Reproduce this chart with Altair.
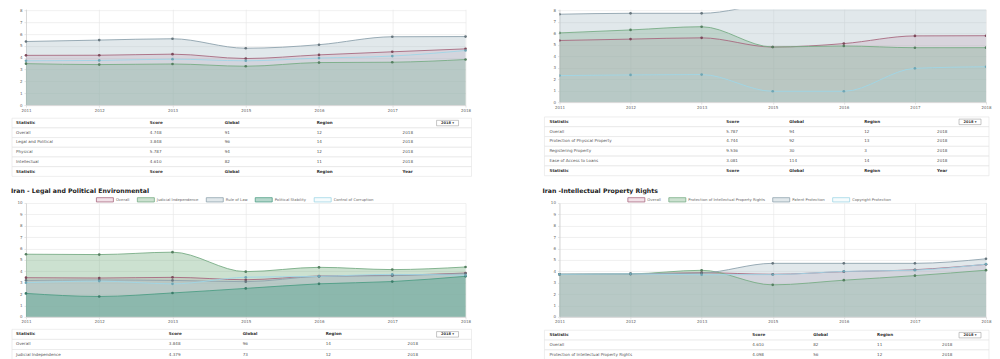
import altair as alt
import pandas as pd

# ---------------- data ----------------
YEARS = ["2011", "2012", "2013", "2015", "2016", "2017", "2018"]

IPRI_NAMES = ["Overall", "Legal and Political", "Physical", "Intellectual"]
IPRI_OVERALL = [4.20, 4.21, 4.30, 3.93, 4.24, 4.50, 4.748]
IPRI_LEGAL = [3.50, 3.42, 3.47, 3.28, 3.59, 3.62, 3.848]
IPRI_PHYSICAL = [5.37, 5.49, 5.60, 4.80, 5.10, 5.77, 5.787]
IPRI_INTELLECTUAL = [3.74, 3.77, 3.88, 3.74, 3.97, 4.14, 4.610]

PPR_NAMES = ["Overall", "Protection of Physical Property", "Registering Property",
             "Ease of Access to Loans"]
PPR_OVERALL = [5.37, 5.49, 5.60, 4.80, 5.10, 5.77, 5.787]
PPR_PROTECTION = [6.03, 6.29, 6.57, 4.80, 4.89, 4.74, 4.744]
PPR_REGISTERING = [7.66, 7.74, 7.74, 8.70, 9.45, 9.55, 9.536]
PPR_LOANS = [2.31, 2.37, 2.40, 0.94, 0.94, 2.94, 3.081]

LP_NAMES = ["Overall", "Judicial Independence", "Rule of Law", "Political Stability",
            "Control of Corruption"]
LP_OVERALL = [3.44, 3.41, 3.47, 3.26, 3.59, 3.65, 3.848]
LP_JUDICIAL = [5.50, 5.47, 5.68, 3.97, 4.35, 4.15, 4.379]
LP_RULE = [3.20, 3.24, 3.20, 3.09, 3.55, 3.62, 3.80]
LP_STABILITY = [2.06, 1.79, 2.10, 2.50, 2.90, 3.10, 3.56]
LP_CORRUPTION = [3.00, 3.14, 2.90, 3.48, 3.56, 3.73, 3.65]

IPR_NAMES = ["Overall", "Protection of Intellectual Property Rights", "Patent Protection",
             "Copyright Protection"]
IPR_OVERALL = [3.74, 3.77, 3.88, 3.74, 3.97, 4.14, 4.610]
IPR_PROTECTION = [3.74, 3.77, 4.09, 2.81, 3.22, 3.62, 4.098]
IPR_PATENT = [3.74, 3.77, 3.85, 4.70, 4.70, 4.70, 5.10]
IPR_COPYRIGHT = [3.74, 3.77, 3.70, 3.71, 3.99, 4.10, 4.63]

HEADER = ["Statistic", "Score", "Global", "Region", "Year"]
TABLE_YEAR = "2018"

TL_STATS = ["Overall", "Legal and Political", "Physical", "Intellectual"]
TL_SCORE = ["4.748", "3.848", "5.787", "4.610"]
TL_GLOBAL = ["91", "96", "94", "82"]
TL_REGION = ["12", "14", "12", "11"]

TR_STATS = ["Overall", "Protection of Physical Property", "Registering Property",
            "Ease of Access to Loans"]
TR_SCORE = ["5.787", "4.744", "9.536", "3.081"]
TR_GLOBAL = ["94", "92", "30", "114"]
TR_REGION = ["12", "13", "3", "14"]

BL_STATS = ["Overall", "Judicial Independence"]
BL_SCORE = ["3.848", "4.379"]
BL_GLOBAL = ["96", "73"]
BL_REGION = ["14", "12"]

BR_STATS = ["Overall", "Protection of Intellectual Property Rights"]
BR_SCORE = ["4.610", "4.098"]
BR_GLOBAL = ["82", "56"]
BR_REGION = ["11", "12"]

# ---------------- style ----------------
FONT = "DejaVu Sans"
GRID = "#e6e6e6"
DOMAIN = "#c8c8c8"
LABEL = "#666666"
RECT_SYM = "M-1,-0.25H1V0.25H-1Z"

# (stroke, fill, dot)
PINK = ("#a86a80", "rgba(200,130,160,0.24)", "#7d4a5b")
GREEN = ("#78ad86", "rgba(110,170,120,0.35)", "#557f60")
GRAYBLUE = ("#8fa3ae", "rgba(170,188,198,0.35)", "#66757d")
TEAL = ("#4f9e86", "rgba(60,150,120,0.38)", "#3b7c69")
CYAN = ("#9fd6e6", "rgba(170,225,235,0.10)", "#6fa6b4")
PAL4 = [PINK, GREEN, GRAYBLUE, CYAN]
PAL5 = [PINK, GREEN, GRAYBLUE, TEAL, CYAN]


def long_df(names, series):
    rows = []
    for name, vals in zip(names, series):
        for yr, v in zip(YEARS, vals):
            rows.append({"year": yr, "series": name, "value": v})
    return pd.DataFrame(rows)


def area_panel(df, names, pal, width, height, ymax, title=None, title_dx=0,
               legend_x=None, clip=False):
    strokes = [p[0] for p in pal]
    fills = [p[1] for p in pal]
    dots = [p[2] for p in pal]
    if legend_x is not None:
        leg = alt.Legend(orient="none", legendX=legend_x, legendY=-12.3,
                         direction="horizontal", columns=len(names), title=None,
                         symbolType=RECT_SYM, symbolSize=289, symbolStrokeWidth=0.8,
                         labelFont=FONT, labelFontSize=3.8, labelColor="#666",
                         labelOffset=2, columnPadding=5, padding=0, rowPadding=0,
                         labelLimit=300)
    else:
        leg = None
    x = alt.X("year:O", sort=YEARS, scale=alt.Scale(type="point", padding=0),
              axis=alt.Axis(title=None, labelAngle=0, grid=True, gridColor=GRID,
                            gridWidth=0.6, tickColor=GRID, tickSize=2,
                            domainColor=DOMAIN, domainWidth=0.6, labelFont=FONT,
                            labelFontSize=4, labelColor=LABEL, labelPadding=1))
    y = alt.Y("value:Q", stack=None,
              scale=alt.Scale(domain=[0, ymax], nice=False, zero=True),
              axis=alt.Axis(title=None, values=list(range(0, int(ymax) + 1)),
                            grid=True, gridColor=GRID, gridWidth=0.6, tickColor=GRID,
                            tickSize=2, domainColor=DOMAIN, domainWidth=0.6,
                            labelFont=FONT, labelFontSize=4, labelColor=LABEL,
                            labelPadding=2))
    fill = alt.Fill("series:N", sort=names, scale=alt.Scale(domain=names, range=fills),
                    legend=leg)
    stroke = alt.Stroke("series:N", sort=names,
                        scale=alt.Scale(domain=names, range=strokes), legend=leg)
    color = alt.Color("series:N", sort=names, scale=alt.Scale(domain=names, range=dots),
                      legend=None)
    base = alt.Chart(df)
    area = base.mark_area(interpolate="monotone", clip=clip).encode(x=x, y=y, fill=fill)
    line = base.mark_line(interpolate="monotone", strokeWidth=0.9, clip=clip).encode(
        x=x, y=y, stroke=stroke)
    pts = base.mark_circle(size=7, opacity=1, clip=clip).encode(x=x, y=y, color=color)
    ch = alt.layer(area, line, pts).properties(width=width, height=height)
    if title:
        ch = ch.properties(title=alt.TitleParams(
            text=title, anchor="start", frame="group", font=FONT, fontSize=6.2,
            fontWeight="bold", color="#222", dx=title_dx, offset=-3.8))
    return ch


def table_panel(stats, score, glob, region, footer, col_x, box, drop_x, width, height,
                first_px, pitch):
    cells = []
    for c, t in zip(col_x[:4], HEADER[:4]):
        cells.append({"row": 0, "x": c, "text": t, "bold": True})
    for i, vals in enumerate(zip(stats, score, glob, region), start=1):
        for c, t in zip(col_x, list(vals) + [TABLE_YEAR]):
            cells.append({"row": i, "x": c, "text": t, "bold": False})
    n = len(stats) + 1
    if footer:
        for c, t in zip(col_x, HEADER):
            cells.append({"row": n, "x": c, "text": t, "bold": True})
        n += 1
    cells_df = pd.DataFrame(cells)
    rows_df = pd.DataFrame({"row": list(range(n)), "x0": [box[0]] * n, "x1": [box[1]] * n})
    drop_df = pd.DataFrame({"x": [drop_x], "row": [0], "text": [TABLE_YEAR + " \u25be"]})

    v_top = -first_px / pitch
    v_bot = (height - first_px) / pitch
    ys = alt.Scale(domain=[v_top, v_bot], reverse=True, nice=False, zero=False)
    xs = alt.Scale(domain=[0, width], nice=False, zero=False)

    rects = alt.Chart(rows_df).transform_calculate(
        y0="datum.row - 0.5", y1="datum.row + 0.5"
    ).mark_rect(fill="white", stroke="#e2e2e2", strokeWidth=0.6).encode(
        x=alt.X("x0:Q", scale=xs, axis=None), x2="x1:Q",
        y=alt.Y("y0:Q", scale=ys, axis=None), y2="y1:Q")
    bold = alt.Chart(cells_df).transform_filter("datum.bold").mark_text(
        align="left", baseline="middle", font=FONT, fontSize=4.1, fontWeight="bold",
        color="#333").encode(x=alt.X("x:Q", scale=xs, axis=None),
                             y=alt.Y("row:Q", scale=ys, axis=None), text="text:N")
    norm = alt.Chart(cells_df).transform_filter("!datum.bold").mark_text(
        align="left", baseline="middle", font=FONT, fontSize=4.1, color="#555").encode(
        x=alt.X("x:Q", scale=xs, axis=None), y=alt.Y("row:Q", scale=ys, axis=None),
        text="text:N")
    dbox = alt.Chart(drop_df).mark_point(
        shape=RECT_SYM, size=484, filled=True, fill="white", stroke="#a0a0a0",
        strokeWidth=0.6, opacity=1).encode(
        x=alt.X("x:Q", scale=xs, axis=None), y=alt.Y("row:Q", scale=ys, axis=None))
    dtext = alt.Chart(drop_df).mark_text(
        align="center", baseline="middle", font=FONT, fontSize=3.6, fontWeight="bold",
        color="#333").encode(x=alt.X("x:Q", scale=xs, axis=None),
                             y=alt.Y("row:Q", scale=ys, axis=None), text="text:N")
    return alt.layer(rects, bold, norm, dbox, dtext).properties(width=width, height=height)


LW, RW = 440, 427

top_left = area_panel(
    long_df(IPRI_NAMES, [IPRI_OVERALL, IPRI_LEGAL, IPRI_PHYSICAL, IPRI_INTELLECTUAL]),
    IPRI_NAMES, PAL4, LW, 96, 8.1)
top_right = area_panel(
    long_df(PPR_NAMES, [PPR_OVERALL, PPR_PROTECTION, PPR_REGISTERING, PPR_LOANS]),
    PPR_NAMES, PAL4, RW, 93, 8.1, clip=True)

tab_tl = table_panel(TL_STATS, TL_SCORE, TL_GLOBAL, TL_REGION, True,
                     [-10, 124, 199, 291, 377], (-14, 446), 422, LW, 98, 18, 9.7)
tab_tr = table_panel(TR_STATS, TR_SCORE, TR_GLOBAL, TR_REGION, True,
                     [-10, 167, 230, 305, 378], (-15, 430), 411, RW, 98, 16.8, 9.8)

bot_left = area_panel(
    long_df(LP_NAMES, [LP_OVERALL, LP_JUDICIAL, LP_RULE, LP_STABILITY, LP_CORRUPTION]),
    LP_NAMES, PAL5, LW, 114, 10, title="Iran - Legal and Political Environmental",
    title_dx=-15, legend_x=70)
bot_right = area_panel(
    long_df(IPR_NAMES, [IPR_OVERALL, IPR_PROTECTION, IPR_PATENT, IPR_COPYRIGHT]),
    IPR_NAMES, PAL4, RW, 114, 10, title="Iran -Intellectual Property Rights",
    title_dx=-17, legend_x=68)

tab_bl = table_panel(BL_STATS, BL_SCORE, BL_GLOBAL, BL_REGION, False,
                     [-10, 143, 217, 300, 382], (-14, 446), 422, LW, 43, 17.5, 10.1)
tab_br = table_panel(BR_STATS, BR_SCORE, BR_GLOBAL, BR_REGION, False,
                     [-10, 193, 254, 318, 383], (-15, 430), 411, RW, 43, 18.3, 9.85)

chart = alt.concat(
    top_left, top_right, tab_tl, tab_tr, bot_left, bot_right, tab_bl, tab_br,
    columns=2, spacing={"row": 0, "column": 94}, bounds="flush"
).resolve_scale(
    x="independent", y="independent", color="independent", fill="independent",
    stroke="independent"
).properties(
    padding={"left": 3, "top": 0, "right": 0, "bottom": 0}
).configure_view(strokeWidth=0)

chart.save("out.html", embed_options={"renderer": "svg", "actions": False})
